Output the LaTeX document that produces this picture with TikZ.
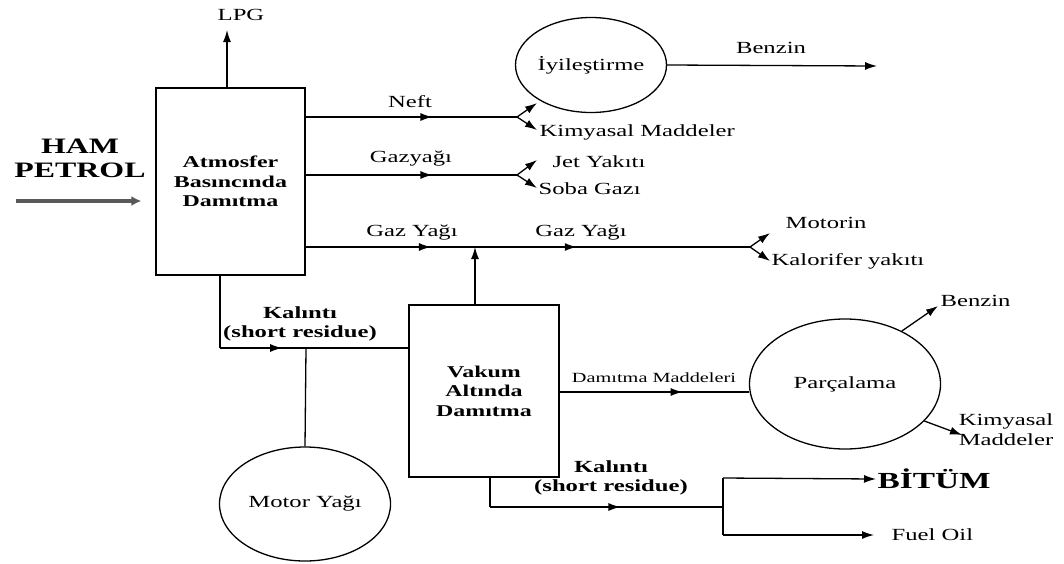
\documentclass[tikz,border=0pt]{standalone}
\usepackage{fontspec}
\setmainfont[FakeStretch=1.45]{Liberation Serif}
\usetikzlibrary{arrows.meta,shapes.geometric,decorations.markings}

\begin{document}
\begin{tikzpicture}[x=1pt,y=-1pt,line width=1.3pt,
  >={Latex[length=12pt,width=8pt]},
  unit/.style={draw,rectangle,font=\bfseries\fontsize{16.5}{19.5}\selectfont,align=center},
  tank/.style={draw,ellipse,inner sep=0pt,font=\fontsize{17}{20}\selectfont},
  lbl/.style={inner sep=1pt,font=\fontsize{17}{20}\selectfont},
  blbl/.style={inner sep=1pt,align=center,font=\bfseries\fontsize{17}{19}\selectfont},
  flow/.style={postaction={decorate},decoration={markings,mark=at position #1 with {\arrow{>}}}}]
\useasboundingbox (0,0) rectangle (1064,563);

\coordinate (lpgtip) at (227,30);
\coordinate (crude) at (16,201);
\coordinate (forkN) at (517,117);
\coordinate (forkG) at (517,175);
\coordinate (join) at (475,247);
\coordinate (forkM) at (750,247);
\coordinate (cornerA) at (220,348);
\coordinate (tapM) at (306,348);
\coordinate (cornerB) at (490,507);
\coordinate (splitB) at (723,507);
\coordinate (bitTop) at (723,478);
\coordinate (fuelBot) at (723,535);
\coordinate (dmIn) at (749,392);

\coordinate (nUp) at (537,103);
\coordinate (nDn) at (537,130);
\coordinate (gUp) at (537,160);
\coordinate (gDn) at (537,188);
\coordinate (mUp) at (770,233);
\coordinate (mDn) at (770,261);
\coordinate (benzTip1) at (877,66);
\coordinate (benzTip2) at (938,306);
\coordinate (kimTip2) at (962,435);

% units
\node[unit,minimum width=149pt,minimum height=187pt] (atm) at (230.5,181.5) {Atmosfer\\Basıncında\\Damıtma};
\node[unit,minimum width=150pt,minimum height=172pt] (vak) at (484,391) {Vakum\\Altında\\Damıtma};
\node[tank,minimum width=150pt,minimum height=95pt] (iyi) at (591,65) {İyileştirme};
\node[tank,minimum width=171pt,minimum height=114pt] (motor) at (305,504) {Motor Yağı};
\node[tank,minimum width=191pt,minimum height=130pt] (parc) at (845,384) {Parçalama};

% labels
\node[lbl] (lpg) at (241,15) {LPG};
\node[blbl,font=\bfseries\fontsize{22}{24}\selectfont] (ham) at (80,158) {HAM\\PETROL};
\node[lbl] (neft) at (410,102) {Neft};
\node[lbl,anchor=west] (kim1) at (538,132) {Kimyasal Maddeler};
\node[lbl] (gazyagi) at (411,159) {Gazyağı};
\node[lbl,anchor=west] (jet) at (551,162) {Jet Yakıtı};
\node[lbl,anchor=west] (soba) at (537,189) {Soba Gazı};
\node[lbl] (gaz1) at (412,233) {Gaz Yağı};
\node[lbl] (gaz2) at (581,233) {Gaz Yağı};
\node[lbl,anchor=west] (motorin) at (784,223) {Motorin};
\node[lbl,anchor=west] (kalorifer) at (770,261) {Kalorifer yakıtı};
\node[lbl] (benz1) at (771,48) {Benzin};
\node[blbl] (kal1) at (300,324) {Kalıntı\\(short residue)};
\node[lbl,font=\fontsize{14}{16}\selectfont] (dmad) at (654,378) {Damıtma Maddeleri};
\node[lbl,anchor=west] (benz2) at (939,301) {Benzin};
\node[lbl,align=center] (kim2) at (1006,430) {Kimyasal\\Maddeler};
\node[blbl] (kal2) at (611,478) {Kalıntı\\(short residue)};
\node[blbl,anchor=west,font=\bfseries\fontsize{23}{26}\selectfont] (bitum) at (876,479) {BİTÜM};
\node[lbl,anchor=west] (fuel) at (890,535) {Fuel Oil};

% atmospheric column
\draw[->] (atm.north -| lpgtip) -- (lpgtip);
\draw[->,line width=3.5pt,black!65,>={Latex[length=10pt,width=10pt]}] (crude) -- ([xshift=-14pt]atm.west |- crude);
\draw[flow=0.6] (atm.east |- forkN) -- (forkN);
\draw[->] (forkN) -- (nUp);
\draw[->] (forkN) -- (nDn);
\draw[->] (iyi.east) -- (benzTip1);
\draw[flow=0.6] (atm.east |- forkG) -- (forkG);
\draw[->] (forkG) -- (gUp);
\draw[->] (forkG) -- (gDn);
\draw[flow=0.74] (atm.east |- join) -- (join);
\draw[flow=0.37] (join) -- (forkM);
\draw[->] (forkM) -- (mUp);
\draw[->] (forkM) -- (mDn);

% residue
\draw (atm.south -| cornerA) -- (cornerA);
\draw[flow=0.33] (cornerA) -- (vak.west |- cornerA);
\draw (tapM) -- (motor.north);

% vacuum column
\draw[->] (vak.north -| join) -- (join);
\draw[flow=0.65] (vak.east |- dmIn) -- (dmIn -| parc.west);
\draw[->] (parc.43) -- (benzTip2);
\draw[->] (parc.-25) -- (kimTip2);
\draw (vak.south -| cornerB) -- (cornerB);
\draw[flow=0.56] (cornerB) -- (splitB);
\draw (bitTop) -- (fuelBot);
\draw[->] (bitTop) -- (bitum.west);
\draw[->,shorten >=16pt] (fuelBot) -- (fuel.west);
\end{tikzpicture}
\end{document}
